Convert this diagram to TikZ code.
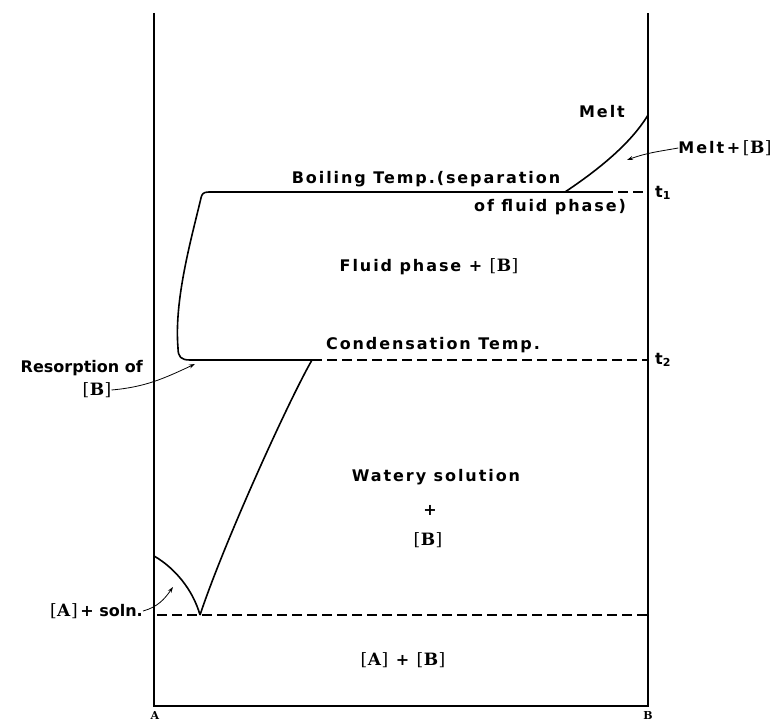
\documentclass[tikz,border=0pt]{standalone}
\usepackage{fontspec}
\usepackage{tikz}
\usetikzlibrary{arrows.meta,positioning}
\newfontfamily\lblfont{DejaVu Sans}[LetterSpace=12]
\newfontfamily\tightfont{DejaVu Sans}
\newfontfamily\crysfont{DejaVu Serif}
\newcommand{\crys}[1]{{\crysfont\fontsize{17}{20}\selectfont\mdseries[\kern0.5pt\textbf{#1}\kern0.5pt]}}
\tikzset{
  axisline/.style={line width=2.2pt,black,line join=miter},
  phase/.style={line width=1.6pt,black,line join=round},
  tieline/.style={line width=1.6pt,black,dash pattern=on 10pt off 5pt},
  lbl/.style={font=\lblfont\bfseries\fontsize{16}{19}\selectfont,inner sep=0pt},
  tightlbl/.style={font=\tightfont\bfseries\fontsize{16}{19}\selectfont,inner sep=0pt},
  cornerlbl/.style={font=\crysfont\bfseries\fontsize{11}{13}\selectfont,inner sep=0pt},
  pointer/.style={-{Stealth[length=6pt,width=4pt]},line width=0.8pt}
}

\begin{document}
\begin{tikzpicture}[x=1pt,y=-1pt]
  \useasboundingbox (0,0) rectangle (777,722);

  % key points of the phase boundaries
  \coordinate (bl) at (209,192);
  \coordinate (bd) at (603,192);
  \coordinate (mb) at (565,192);
  \coordinate (mt) at (648,115);
  \coordinate (cl) at (190,360);
  \coordinate (cr) at (312,360);
  \coordinate (eu) at (200,615);

  % frame
  \draw[axisline] (154,13) -- (154,706) -- (648,706) -- (648,13);
  \node[cornerlbl] (ca) at (155,715) {A};
  \node[cornerlbl] (cb) at (648,715) {B};

  % boundaries
  \draw[phase] (bd) -- (bl) .. controls (203,192) and (202,194) .. (201,198)
     .. controls (191,240) and (174,300) .. (178,348)
     .. controls (178,357) and (181,360) .. (cl) -- (cr)
     .. controls (290,398) and (225,540) .. (eu);
  \draw[phase] (mb) .. controls (595,172) and (630,145) .. (mt);
  \draw[phase] (154,556) .. controls (175,568) and (193,590) .. (eu);

  % temperature levels
  \draw[tieline] (bd) -- (648,192);
  \draw[tieline] (cr) -- (648,360);
  \draw[tieline] (157,615) -- (648,615);
  \node[lbl,anchor=west] (t1) at (655,193) {t\raisebox{-2pt}{\fontsize{11}{11}\selectfont 1}};
  \node[lbl,anchor=west] (t2) at (655,360) {t\raisebox{-2pt}{\fontsize{11}{11}\selectfont 2}};

  % field labels
  \node[lbl] (melt) at (602,112) {Melt};
  \node[lbl] (meltb) at (725,148) {Melt\,+\,\crys{B}};
  \node[lbl] (boil) at (426,179) {Boiling Temp.(separation};
  \node[lbl] (boil2) at (550,207) {of fluid phase)};
  \node[lbl] (fluid) at (429,267) {Fluid phase + \crys{B}};
  \node[lbl] (cond) at (433,345) {Condensation Temp.};
  \node[lbl] (water) at (436,477) {Watery solution};
  \node[lbl] (wplus) at (430,510) {+};
  \node[lbl] (wb) at (428,540) {\crys{B}};
  \node[lbl] (ab) at (403,660) {\crys{A} + \crys{B}};

  % pointer labels
  \node[tightlbl,anchor=east] (res) at (143,368) {Resorption of};
  \node[lbl] (resb) at (97,390) {\crys{B}};
  \node[tightlbl,anchor=east] (asol) at (143,611) {\crys{A}\,+ soln.};
  \coordinate (restip) at (195,364);
  \coordinate (asoltip) at (173,587);
  \coordinate (melttip) at (627,160);
  \draw[pointer] (resb.east) to[out=5,in=205] (restip);
  \draw[pointer] (asol.east) to[out=15,in=235] (asoltip);
  \draw[pointer] (meltb.west) to[out=190,in=20] (melttip);
\end{tikzpicture}
\end{document}
